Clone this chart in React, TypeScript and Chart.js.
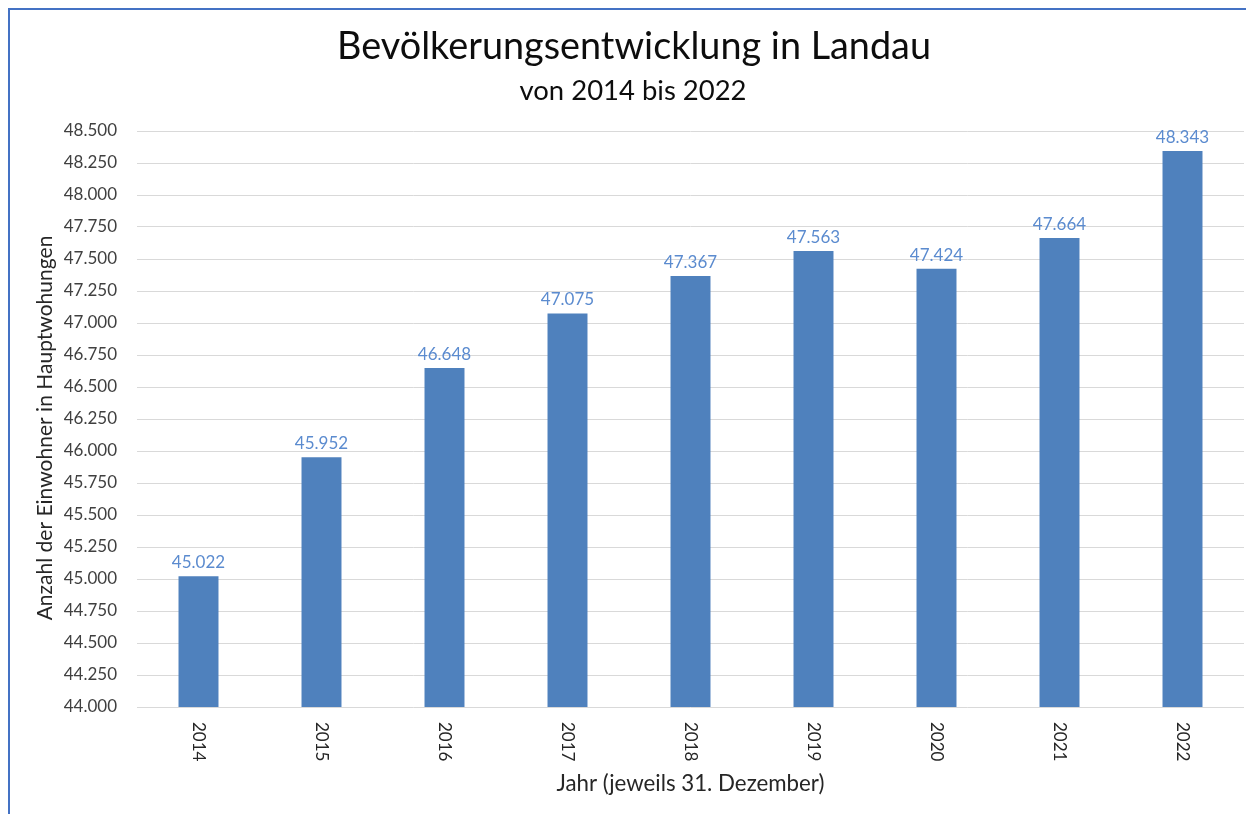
import React, { useEffect, useRef } from "react";
import { Chart, registerables } from "chart.js";

Chart.register(...registerables);

const years = ["2014", "2015", "2016", "2017", "2018", "2019", "2020", "2021", "2022"];
const population = [45022, 45952, 46648, 47075, 47367, 47563, 47424, 47664, 48343];
const titleText = "Bevölkerungsentwicklung in Landau";
const subtitleText = "von 2014 bis 2022";
const xTitle = "Jahr (jeweils 31. Dezember)";
const yTitle = "Anzahl der Einwohner in Hauptwohungen";
const yMin = 44000;
const yMax = 48500;
const yStep = 250;

const FONT = "Lato, 'Open Sans', sans-serif";
const fmt = (v: number) => v.toLocaleString("de-DE");

function fitFont(ctx: CanvasRenderingContext2D, text: string, width: number, weight = "normal") {
  ctx.font = `${weight} 100px ${FONT}`;
  const w = ctx.measureText(text).width;
  const size = (100 * width) / w;
  return `${weight} ${size.toFixed(2)}px ${FONT}`;
}

const decorPlugin = {
  id: "decor",
  afterDraw(chart: any) {
    const ctx = chart.ctx as CanvasRenderingContext2D;
    const area = chart.chartArea;
    const xs = chart.scales.x;
    const ys = chart.scales.y;
    ctx.save();
    // frame
    ctx.strokeStyle = "#4472c4";
    ctx.lineWidth = 2;
    ctx.beginPath();
    ctx.moveTo(9, chart.height);
    ctx.lineTo(9, 9);
    ctx.lineTo(chart.width, 9);
    ctx.stroke();

    // title
    ctx.fillStyle = "#0d0d0d";
    ctx.textAlign = "center";
    ctx.textBaseline = "middle";
    ctx.font = fitFont(ctx, titleText, 594);
    ctx.fillText(titleText, 634, 47);
    ctx.font = fitFont(ctx, subtitleText, 227);
    ctx.fillText(subtitleText, 633, 91);

    // x title
    ctx.fillStyle = "#262626";
    ctx.font = fitFont(ctx, xTitle, 268);
    ctx.fillText(xTitle, (area.left + area.right) / 2, 784);

    // y title
    ctx.save();
    ctx.translate(45, 428);
    ctx.rotate(-Math.PI / 2);
    ctx.font = fitFont(ctx, yTitle, 385);
    ctx.fillText(yTitle, 0, 0);
    ctx.restore();

    // x tick labels, rotated clockwise
    ctx.fillStyle = "#262626";
    ctx.font = `17px ${FONT}`;
    years.forEach((y, i) => {
      const x = xs.getPixelForTick(i);
      ctx.save();
      ctx.translate(x, 722);
      ctx.rotate(Math.PI / 2);
      ctx.textAlign = "left";
      ctx.textBaseline = "middle";
      ctx.fillText(y, 0, 0);
      ctx.restore();
    });

    // data labels
    ctx.fillStyle = "#5b8bcf";
    ctx.font = `17px ${FONT}`;
    ctx.textAlign = "center";
    ctx.textBaseline = "alphabetic";
    const meta = chart.getDatasetMeta(0);
    meta.data.forEach((bar: any, i: number) => {
      ctx.fillText(fmt(population[i]), bar.x, bar.y - 8);
    });
    ctx.restore();
  },
};

export default function App() {
  const ref = useRef<HTMLCanvasElement | null>(null);
  useEffect(() => {
    if (!ref.current) return;
    const chart = new Chart(ref.current, {
      type: "bar",
      data: {
        labels: years,
        datasets: [
          {
            data: population,
            backgroundColor: "#4f81bd",
            borderWidth: 0,
            barPercentage: 0.325,
            categoryPercentage: 1,
          },
        ],
      },
      plugins: [decorPlugin],
      options: {
        animation: false,
        responsive: false,
        maintainAspectRatio: false,
        layout: { padding: { left: 0, right: 2, top: 131, bottom: 0 } },
        plugins: {
          legend: { display: false },
          title: { display: false },
          tooltip: { enabled: false },
        },
        scales: {
          x: {
            grid: { display: false },
            border: { display: false },
            ticks: { display: false },
            afterFit(scale: any) {
              scale.height = 814 - 707;
            },
          },
          y: {
            min: yMin,
            max: yMax,
            ticks: {
              stepSize: yStep,
              color: "#404040",
              font: { family: FONT, size: 17 },
              padding: 20,
              callback: (v: any) => fmt(Number(v)),
            },
            grid: { color: "#d9d9d9", lineWidth: 1, drawTicks: false },
            border: { display: false },
            afterFit(scale: any) {
              scale.width = 137;
            },
          },
        },
      },
    });
    return () => chart.destroy();
  }, []);
  return (
    <div style={{ position: "fixed", left: 0, top: 0, width: 1246, height: 814, background: "#fff" }}>
      <canvas ref={ref} width={1246} height={814} style={{ width: 1246, height: 814, display: "block" }} />
    </div>
  );
}
